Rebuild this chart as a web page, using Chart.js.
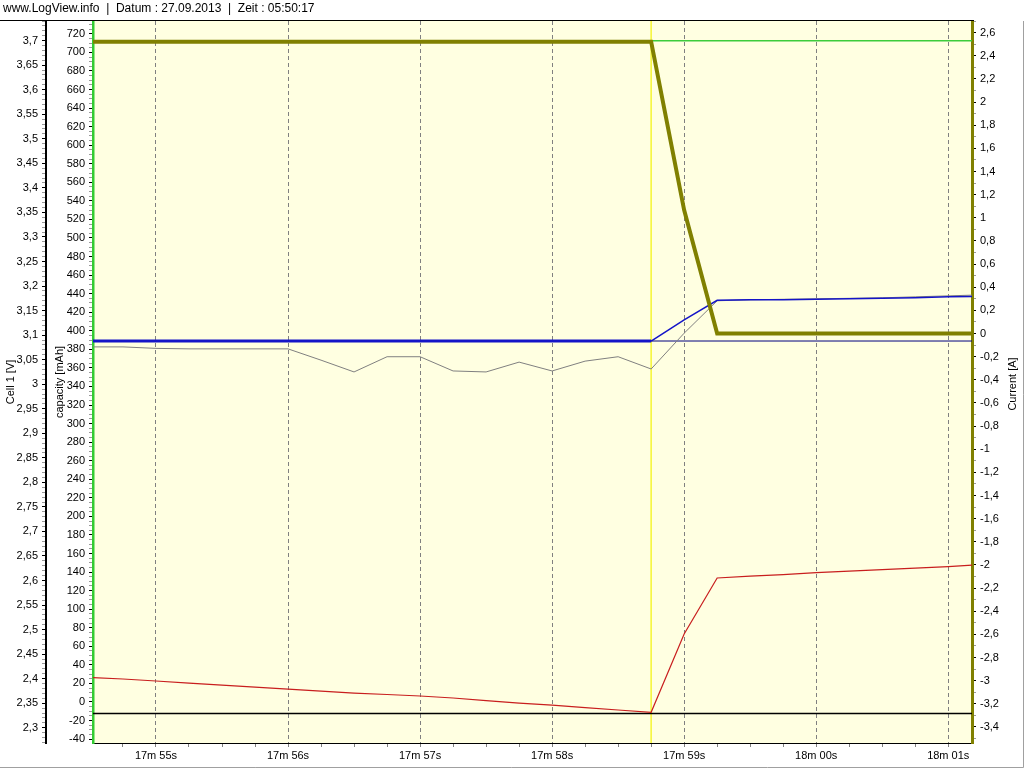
<!DOCTYPE html>
<html>
<head>
<meta charset="utf-8">
<title>LogView</title>
<script src="https://cdn.jsdelivr.net/npm/chart.js@4.4.1/dist/chart.umd.min.js"></script>
<style>
  html, body { margin:0; padding:0; background:#fff; }
  #wrap { width:1024px; height:768px; }
</style>
</head>
<body>
<div id="wrap"><canvas id="chartLog" width="1024" height="768"></canvas></div>
<script>
// Zeitachse: Sekunden innerhalb Minute 17 (Abtastung alle 0,25 s)
const zeit = [54.5, 54.75, 55, 55.25, 55.5, 55.75, 56, 56.25, 56.5, 56.75, 57, 57.25, 57.5, 57.75,
              58, 58.25, 58.5, 58.75, 59, 59.25, 59.5, 59.75, 60, 60.25, 60.5, 60.75, 61, 61.25];

// Current [A] (oliv, dick)
const strom = [2.522, 2.522, 2.522, 2.522, 2.522, 2.522, 2.522, 2.522, 2.522, 2.522, 2.522, 2.522, 2.522, 2.522,
               2.522, 2.522, 2.522, 2.522, 1.067, 0, 0, 0, 0, 0, 0, 0, 0, 0];
// rote Linie, ebenfalls auf der Strom-Achse
const rot = [-2.973, -2.986, -3.003, -3.021, -3.038, -3.056, -3.073, -3.090, -3.108, -3.120, -3.133, -3.150, -3.172, -3.194,
             -3.211, -3.233, -3.254, -3.274, -2.597, -2.113, -2.096, -2.083, -2.066, -2.053, -2.040, -2.027, -2.014, -1.997];
// Cell 1 [V] (blau) und zweite Spannung (grau)
const zelleBlau = [3.088, 3.088, 3.088, 3.088, 3.088, 3.088, 3.088, 3.088, 3.088, 3.088, 3.088, 3.088, 3.088, 3.088,
                   3.088, 3.088, 3.088, 3.088, 3.131, 3.171, 3.172, 3.172, 3.173, 3.174, 3.175, 3.176, 3.178, 3.179];
const zelleGrau = [3.076, 3.076, 3.073, 3.072, 3.072, 3.072, 3.072, 3.049, 3.025, 3.056, 3.056, 3.027, 3.025, 3.045,
                   3.027, 3.047, 3.056, 3.031, 3.104, 3.170, 3.172, 3.173, 3.174, 3.175, 3.176, 3.178, 3.180, 3.182];
// konstante Linien
const kapazitaet = 712.6;   // capacity [mAh], gruen
const zelleBasis = 3.088;   // duenne blaue Linie
const schwarzV = 2.329;     // schwarze Linie
const cursorZeit = 58.75;   // gelber Cursor

// Achsenbereiche und Teilungen
const achseV = { min: 2.269, max: 3.740, step: 0.01, label: 0.05 };
const achseCap = { min: -44.2, max: 733.8, step: 5, label: 20 };
const achseCur = { min: -3.539, max: 2.701, step: 0.1, label: 0.2 };
const achseZeit = { min: 54.523, max: 61.18, step: 0.25 };

const headerText = 'www.LogView.info  |  Datum : 27.09.2013  |  Zeit : 05:50:17';

Chart.defaults.font.family = '"Liberation Sans", Arial, sans-serif';
Chart.defaults.font.size = 11;
Chart.defaults.color = '#000';

function punkte(ys){
  return zeit.map((t, i) => ({ x: t, y: ys[i] }));
}
function konstant(y){
  return [{ x: zeit[0], y }, { x: zeit[zeit.length - 1], y }];
}
function vielfaches(v, s){
  return Math.abs(v / s - Math.round(v / s)) < 1e-6;
}
function komma(v, d){
  let s = String(+v.toFixed(d));
  if (s === '-0') s = '0';
  return s.replace('.', ',');
}
function zeitLabel(v){
  const total = 17 * 60 + Math.round(v);
  const m = Math.floor(total / 60), s = total % 60;
  return m + 'm ' + String(s).padStart(2, '0') + 's';
}

const dekor = {
  id: 'dekor',
  beforeDraw(chart){
    const { ctx, chartArea: a, width, height } = chart;
    ctx.save();
    ctx.fillStyle = '#fff';
    ctx.fillRect(0, 0, width, height);
    ctx.fillStyle = '#FFFFE1';
    ctx.fillRect(a.left, a.top, a.right - a.left, a.bottom - a.top);
    ctx.restore();
  },
  afterDraw(chart){
    const { ctx, chartArea: a, width, height } = chart;
    ctx.save();
    // Kopfzeile
    ctx.font = '12px "Liberation Sans", Arial, sans-serif';
    ctx.fillStyle = '#000';
    ctx.textBaseline = 'middle';
    ctx.fillText(headerText, 3, 9);
    ctx.strokeStyle = '#000';
    ctx.lineWidth = 1;
    ctx.beginPath();
    ctx.moveTo(0, a.top - 0.5);
    ctx.lineTo(a.right + 2, a.top - 0.5);
    ctx.stroke();
    // Fensterrand
    ctx.strokeStyle = '#a0a0a0';
    ctx.beginPath();
    ctx.moveTo(0, height - 0.5);
    ctx.lineTo(width - 0.5, height - 0.5);
    ctx.lineTo(width - 0.5, a.top);
    ctx.stroke();
    // Titel rechte Achse (von unten nach oben)
    ctx.font = '11px "Liberation Sans", Arial, sans-serif';
    ctx.translate(1013, (a.top + a.bottom) / 2 + 2);
    ctx.rotate(-Math.PI / 2);
    ctx.textAlign = 'center';
    ctx.fillText('Current [A]', 0, 0);
    ctx.restore();
  }
};

const ctx = document.getElementById('chartLog').getContext('2d');
const chart = new Chart(ctx, {
  type: 'line',
  data: {
    datasets: [
      { data: punkte(strom), yAxisID: 'cur', borderColor: '#808000', borderWidth: 4, order: 0 },
      { data: punkte(rot), yAxisID: 'cur', borderColor: '#c81e1e', borderWidth: 1.2, order: 1 },
      { data: punkte(zelleBlau), yAxisID: 'v', borderColor: '#1414c8', order: 2,
        borderWidth: 1.5,
        segment: { borderWidth: c => c.p0.parsed.x < cursorZeit - 0.01 ? 3 : 1.5 } },
      { data: punkte(zelleGrau), yAxisID: 'v', borderColor: '#808080', borderWidth: 1, order: 3 },
      { data: konstant(zelleBasis), yAxisID: 'v', borderColor: '#000080', borderWidth: 1, order: 4 },
      { data: konstant(schwarzV), yAxisID: 'v', borderColor: '#000', borderWidth: 1.5, order: 5 },
      { data: konstant(kapazitaet), yAxisID: 'cap', borderColor: '#3ccc3c', borderWidth: 1.5, order: 6 },
      { data: [{ x: cursorZeit, y: -100 }, { x: cursorZeit, y: 900 }], yAxisID: 'cap',
        borderColor: '#f5f532', borderWidth: 1.5, order: 7 }
    ]
  },
  options: {
    responsive: false,
    animation: false,
    events: [],
    layout: { padding: { top: 21, left: 0, right: 0, bottom: 0 } },
    elements: { point: { radius: 0 }, line: { tension: 0 } },
    plugins: { legend: { display: false }, tooltip: { enabled: false }, title: { display: false } },
    scales: {
      x: {
        type: 'linear', min: achseZeit.min, max: achseZeit.max,
        afterFit: s => { s.height = 25; },
        border: { color: '#000', width: 1, dash: [4, 3] },
        grid: {
          color: c => c.tick && vielfaches(c.tick.value, 1) ? '#808080' : 'rgba(0,0,0,0)',
          tickColor: '#808080', tickLength: 4, lineWidth: 1
        },
        ticks: {
          stepSize: achseZeit.step, includeBounds: false, autoSkip: false, maxRotation: 0, padding: 2,
          callback: v => vielfaches(v, 1) ? zeitLabel(v) : ''
        }
      },
      v: {
        type: 'linear', position: 'left', weight: 1, min: achseV.min, max: achseV.max,
        afterFit: s => { s.width = 46; },
        border: { color: '#000', width: 2 },
        grid: {
          drawOnChartArea: false, tickLength: 4,
          tickColor: c => c.tick && vielfaches(c.tick.value, achseV.label) ? '#000' : '#999'
        },
        ticks: {
          stepSize: achseV.step, includeBounds: false, autoSkip: false, padding: 4,
          callback: v => vielfaches(v, achseV.label) ? komma(v, 2) : ''
        },
        title: { display: true, text: 'Cell 1 [V]', padding: { top: 4, bottom: 0 } }
      },
      cap: {
        type: 'linear', position: 'left', weight: 0, min: achseCap.min, max: achseCap.max,
        afterFit: s => { s.width = 47; },
        border: { color: '#33cc33', width: 2.5 },
        grid: {
          drawOnChartArea: false, tickLength: 4,
          tickColor: c => c.tick && vielfaches(c.tick.value, achseCap.label) ? '#000' : '#999'
        },
        ticks: {
          stepSize: achseCap.step, includeBounds: false, autoSkip: false, padding: 4,
          callback: v => vielfaches(v, achseCap.label) ? String(Math.round(v)) : ''
        },
        title: { display: true, text: 'capacity [mAh]', padding: { top: 7, bottom: 0 } }
      },
      cur: {
        type: 'linear', position: 'right', min: achseCur.min, max: achseCur.max,
        afterFit: s => { s.width = 52; },
        border: { color: '#808000', width: 3 },
        grid: {
          drawOnChartArea: false, tickLength: 4,
          tickColor: c => c.tick && vielfaches(c.tick.value, achseCur.label) ? '#000' : '#999'
        },
        ticks: {
          stepSize: achseCur.step, includeBounds: false, autoSkip: false, padding: 4,
          callback: v => vielfaches(v, achseCur.label) ? komma(v, 1) : ''
        }
      }
    }
  },
  plugins: [dekor]
});
</script>
</body>
</html>
